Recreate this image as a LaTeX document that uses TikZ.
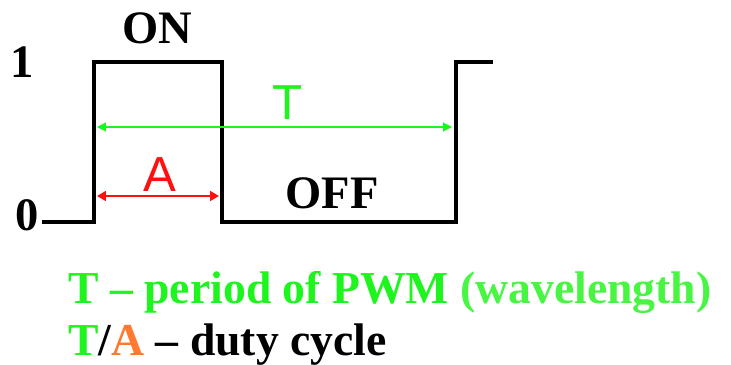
\documentclass[tikz,border=0pt]{standalone}
\usepackage{fontspec}
\setmainfont{Liberation Serif}
\newfontfamily\arialfont{Liberation Sans}
\usetikzlibrary{positioning, arrows.meta, calc}
\definecolor{pwmgreen}{HTML}{1EF51E}
\definecolor{lightpwmgreen}{HTML}{48F542}
\definecolor{pwmred}{HTML}{FF1010}
\definecolor{pwmorange}{HTML}{FF7A2E}

\begin{document}
\begin{tikzpicture}[x=0.02cm, y=-0.02cm,
    signal/.style={line width=2.8pt, line join=miter},
    levellabel/.style={inner sep=0pt, font=\fontsize{26.5}{30}\selectfont\bfseries},
    dimlabel/.style={inner sep=0pt, font=\fontsize{28}{32}\selectfont\arialfont},
    legend/.style={inner sep=0pt, anchor=base west, font=\fontsize{26}{30}\selectfont\bfseries}]
  \useasboundingbox (0,0) rectangle (731,365);
  % waveform corners
  \coordinate (lowstart) at (42,222);
  \coordinate (riseAbot) at (94,222);
  \coordinate (riseAtop) at (94,62);
  \coordinate (fallAtop) at (222,62);
  \coordinate (fallAbot) at (222,222);
  \coordinate (riseBbot) at (456,222);
  \coordinate (riseBtop) at (456,62);
  \coordinate (highend) at (493,62);
  \draw[signal] (lowstart) -- (riseAbot) -- (riseAtop) -- (fallAtop)
    -- (fallAbot) -- (riseBbot) -- (riseBtop) -- (highend);

  % period and on-time
  \coordinate (tstart) at (97,127);
  \coordinate (tend) at (452,127);
  \coordinate (astart) at (97,196);
  \coordinate (aend) at (219,196);
  \draw[pwmgreen, line width=0.6pt, {Triangle[length=5pt, width=5pt]}-{Triangle[length=5pt, width=5pt]}] (tstart) -- (tend);
  \draw[pwmred, line width=1.2pt, {Triangle[length=5pt, width=5.5pt]}-{Triangle[length=5pt, width=5.5pt]}] (astart) -- (aend);
  \node[dimlabel, text=pwmgreen] (tlabel) at (288,103) {T};
  \node[dimlabel, text=pwmred] (alabel) at (160,175) {A};

  % levels
  \node[levellabel] (one) at (22,62) {1};
  \node[levellabel] (zero) at (27,215) {0};
  \node[levellabel] (on) at (157,28) {ON};
  \node[levellabel] (off) at (332,193) {OFF};

  % legend
  \node[legend, text=pwmgreen] (periodtext) at (68,303)
    {T -- period of PWM \textcolor{lightpwmgreen}{(wavelength)}};
  \node[legend] (dutytext) at (68,355)
    {\textcolor{pwmgreen}{T}/\textcolor{pwmorange}{A} -- duty cycle};
\end{tikzpicture}
\end{document}
